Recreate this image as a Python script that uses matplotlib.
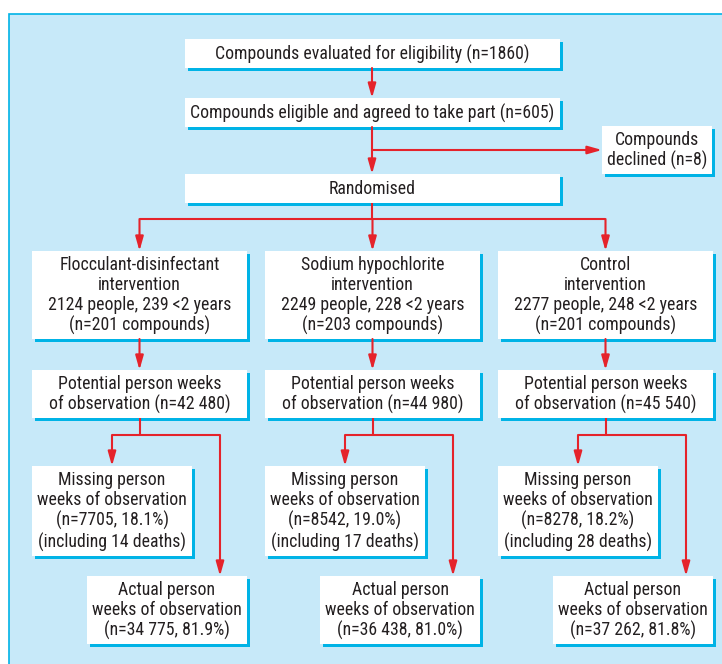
import matplotlib.pyplot as plt
from matplotlib.patches import Rectangle

# ---- data ----
top_steps = ["Compounds evaluated for eligibility (n=1860)",
             "Compounds eligible and agreed to take part (n=605)",
             "Randomised"]
declined = "Compounds\ndeclined (n=8)"
arms = ["Flocculant-disinfectant\nintervention",
        "Sodium hypochlorite\nintervention",
        "Control\nintervention"]
people = [2124, 2249, 2277]
under2 = [239, 228, 248]
compounds = [201, 203, 201]
potential = [42480, 44980, 45540]
missing = [7705, 8542, 8278]
missing_pct = [18.1, 19.0, 18.2]
deaths = [14, 17, 28]
actual = [34775, 36438, 37262]
actual_pct = [81.9, 81.0, 81.8]

# ---- style ----
BG = "#c7e9f9"
CYAN = "#00b3e6"
RED = "#e5232b"
TXT = "#231f20"
FONT = ["Roboto Condensed", "Archivo Narrow", "DejaVu Sans"]
FS = 12.8


def num(n):
    s = str(n)
    if n >= 10000:
        s = s[:-3] + " " + s[-3:]
    return s


fig = plt.figure(figsize=(7.22, 6.64), dpi=100)
ax = fig.add_axes([0, 0, 1, 1])
ax.set_xlim(0, 722)
ax.set_ylim(664, 0)
ax.axis("off")

ax.add_patch(Rectangle((9, 14), 730, 680, facecolor=BG, edgecolor=CYAN, lw=1.2, zorder=0))


def box(x0, y0, x1, y1, text):
    ax.add_patch(Rectangle((x0 + 3, y0 + 3), x1 - x0, y1 - y0, facecolor=CYAN, edgecolor="none", zorder=1))
    ax.add_patch(Rectangle((x0, y0), x1 - x0, y1 - y0, facecolor="white", edgecolor="none", zorder=2))
    ax.text((x0 + x1) / 2, (y0 + y1) / 2 + 0.5, text, ha="center", va="center", fontsize=FS,
            family=FONT, color=TXT, linespacing=1.14, zorder=4)


def line(xs, ys):
    ax.plot(xs, ys, color=RED, lw=1.5, solid_capstyle="butt", zorder=3)


def arrow(x0, y0, x1, y1):
    ax.annotate("", xy=(x1, y1), xytext=(x0, y0),
                arrowprops=dict(arrowstyle="-|>,head_length=0.85,head_width=0.24",
                                color=RED, lw=1.5, shrinkA=0, shrinkB=0), zorder=3)


# top part
box(185, 39, 560, 68, top_steps[0])
box(185, 98, 560, 127, top_steps[1])
box(185, 174, 560, 203, top_steps[2])
box(602, 126, 712, 174, declined)
cx = 372
arrow(cx, 68, cx, 98)
arrow(cx, 127, cx, 174)
arrow(cx, 150, 602, 150)

# arms
lefts = [32, 265, 498]
W = 215
line([140, 605], [219, 219])
line([cx, cx], [203, 219])
for i, L in enumerate(lefts):
    c = L + W / 2
    arrow(c, 219, c, 251)
    box(L, 251, L + W, 339,
        f"{arms[i]}\n{people[i]} people, {under2[i]} <2 years\n(n={compounds[i]} compounds)")
    arrow(c, 339, c, 370)
    box(L, 370, L + W, 418, f"Potential person weeks\nof observation (n={num(potential[i])})")
    mx = L + 80
    axx = L + 188
    line([c, c], [418, 435])
    line([mx, axx], [435, 435])
    arrow(mx, 435, mx, 466)
    arrow(axx, 435, axx, 576)
    box(L, 466, L + 160, 556,
        f"Missing person\nweeks of observation\n(n={num(missing[i])}, {missing_pct[i]:.1f}%)\n(including {deaths[i]} deaths)")
    box(L + 55, 576, L + W, 644,
        f"Actual person\nweeks of observation\n(n={num(actual[i])}, {actual_pct[i]:.1f}%)")

fig.savefig("out.png", dpi=100)
